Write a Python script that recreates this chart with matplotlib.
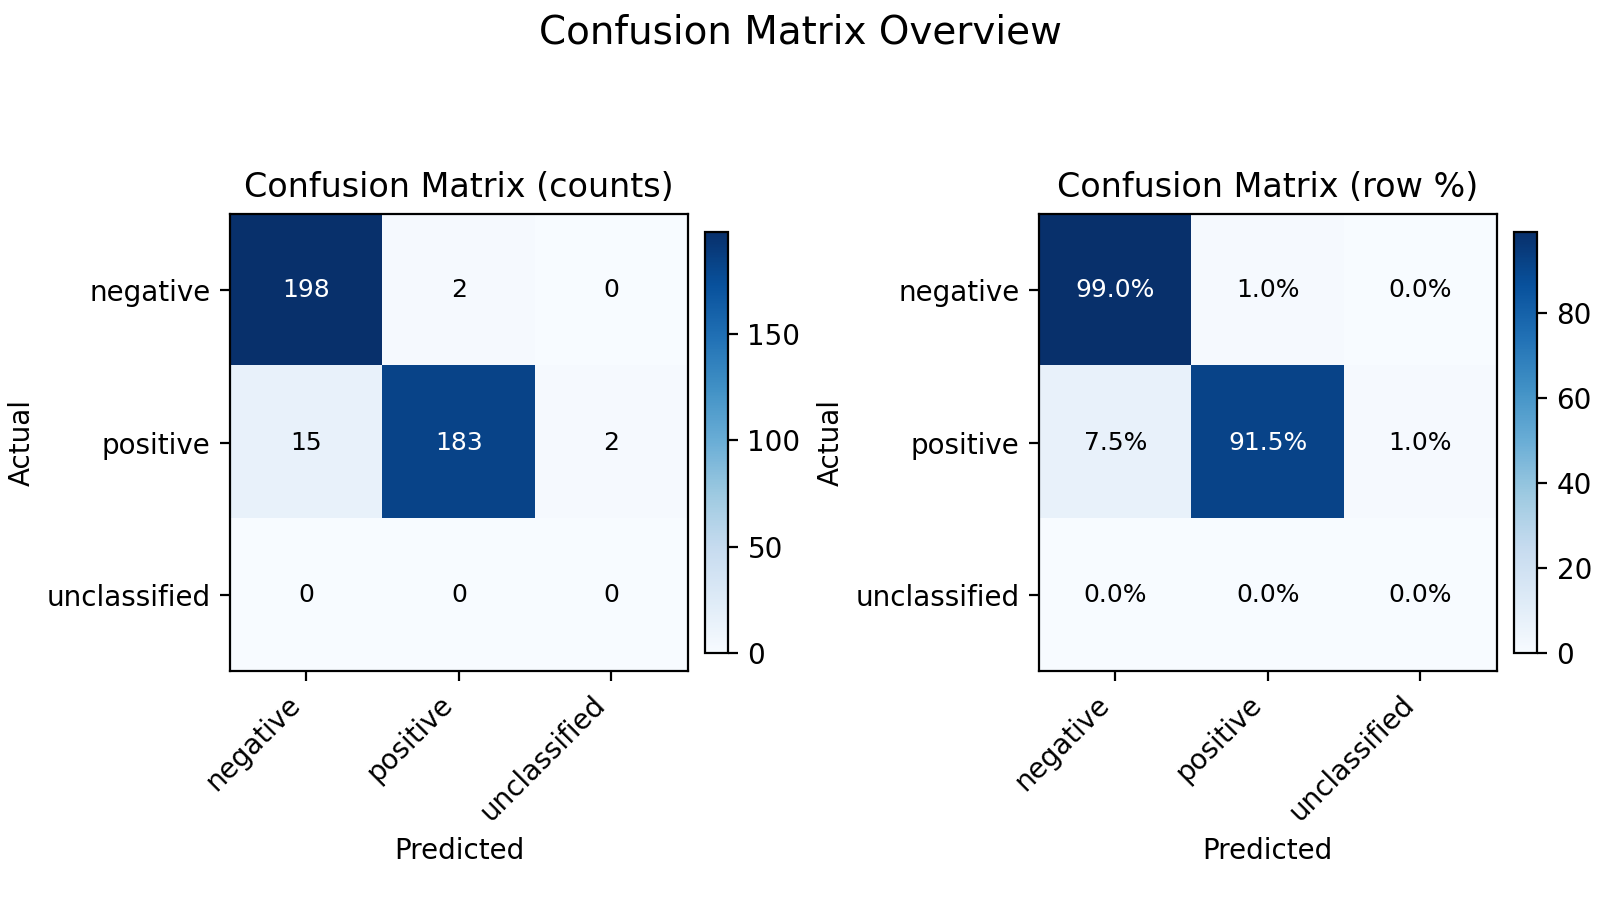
import numpy as np
import matplotlib
matplotlib.use("agg")
import matplotlib.pyplot as plt

labels = ["negative", "positive", "unclassified"]
counts = np.array([[198, 2, 0],
                   [15, 183, 2],
                   [0, 0, 0]])

# row percentages, empty rows stay at 0
row_sum = counts.sum(axis=1, keepdims=True)
pct = np.divide(counts * 100.0, row_sum, out=np.zeros(counts.shape), where=row_sum > 0)

fig = plt.figure(figsize=(8, 4.5), dpi=200)
fig.suptitle("Confusion Matrix Overview", fontsize=14, y=0.985)

ax1 = fig.add_axes([0.1438, 0.2544, 0.286, 0.5078])
ax2 = fig.add_axes([0.6494, 0.2544, 0.286, 0.5078])
cax1 = fig.add_axes([0.4406, 0.2744, 0.0144, 0.4678])
cax2 = fig.add_axes([0.9463, 0.2744, 0.0144, 0.4678])


def draw(ax, cax, data, title, fmt):
    im = ax.imshow(data, cmap="Blues", vmin=0, vmax=data.max(), aspect="auto")
    ax.set_title(title, fontsize=12)
    ax.set_xticks(range(len(labels)))
    ax.set_yticks(range(len(labels)))
    ax.set_xticklabels(labels, rotation=45, ha="right", fontsize=10)
    ax.set_yticklabels(labels, fontsize=10)
    ax.set_xlabel("Predicted", fontsize=10)
    ax.set_ylabel("Actual", fontsize=10)
    thresh = data.max() / 2
    for i in range(data.shape[0]):
        for j in range(data.shape[1]):
            ax.text(j, i, fmt(data[i, j]), ha="center", va="center", fontsize=9,
                    color="white" if data[i, j] > thresh else "black")
    cb = fig.colorbar(im, cax=cax)
    cb.ax.tick_params(labelsize=10)
    return im


draw(ax1, cax1, counts, "Confusion Matrix (counts)", lambda v: f"{int(v)}")
draw(ax2, cax2, pct, "Confusion Matrix (row %)", lambda v: f"{v:.1f}%")

plt.savefig("out.png", dpi=200)
